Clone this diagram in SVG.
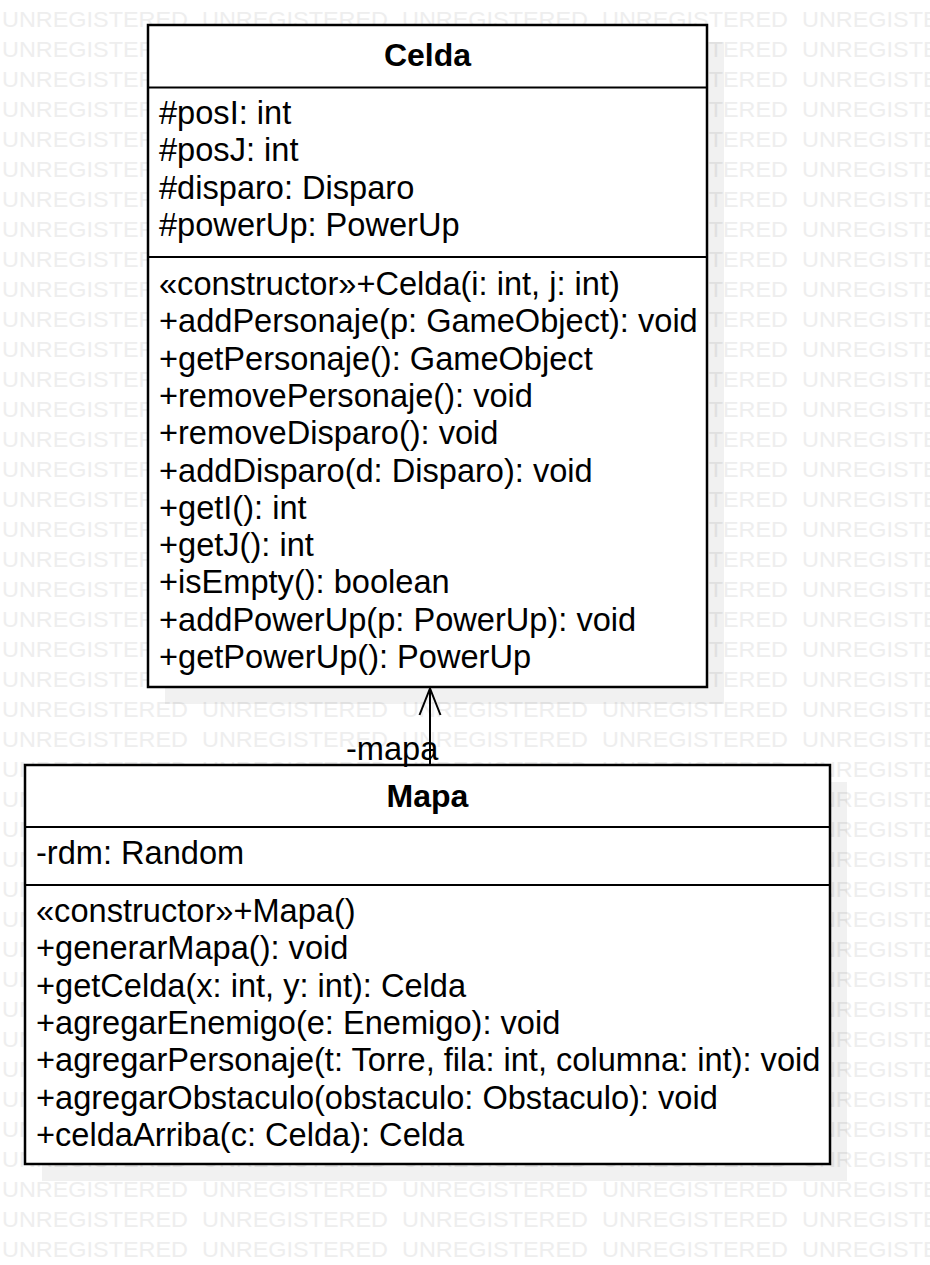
<svg xmlns="http://www.w3.org/2000/svg" xmlns:xlink="http://www.w3.org/1999/xlink" width="930" height="1265" viewBox="0 0 930 1265">
<style>
.wm{font-family:"Liberation Sans",Arial,sans-serif;font-size:22.5px;fill:#eeeeee}
.t{font-family:"Liberation Sans",Arial,sans-serif;font-size:32.6px;fill:#000}
.b{font-weight:bold;text-anchor:middle;font-size:32px}
.box{fill:#fff;stroke:#000;stroke-width:2.5}
.sh{fill:#000;fill-opacity:0.055}
.div{stroke:#000;stroke-width:2.2}
.con{stroke:#000;stroke-width:2;fill:none}
</style>
<defs>
<g id="row">
<text class="wm" x="2" textLength="186" lengthAdjust="spacingAndGlyphs">UNREGISTERED</text>
<text class="wm" x="202" textLength="186" lengthAdjust="spacingAndGlyphs">UNREGISTERED</text>
<text class="wm" x="402" textLength="186" lengthAdjust="spacingAndGlyphs">UNREGISTERED</text>
<text class="wm" x="602" textLength="186" lengthAdjust="spacingAndGlyphs">UNREGISTERED</text>
<text class="wm" x="802" textLength="186" lengthAdjust="spacingAndGlyphs">UNREGISTERED</text>
</g>
</defs>
<rect width="930" height="1265" fill="#fff"/>
<g id="watermark">
<use xlink:href="#row" y="27"/><use xlink:href="#row" y="57"/><use xlink:href="#row" y="87"/><use xlink:href="#row" y="117"/>
<use xlink:href="#row" y="147"/><use xlink:href="#row" y="177"/><use xlink:href="#row" y="207"/><use xlink:href="#row" y="237"/>
<use xlink:href="#row" y="267"/><use xlink:href="#row" y="297"/><use xlink:href="#row" y="327"/><use xlink:href="#row" y="357"/>
<use xlink:href="#row" y="387"/><use xlink:href="#row" y="417"/><use xlink:href="#row" y="447"/><use xlink:href="#row" y="477"/>
<use xlink:href="#row" y="507"/><use xlink:href="#row" y="537"/><use xlink:href="#row" y="567"/><use xlink:href="#row" y="597"/>
<use xlink:href="#row" y="627"/><use xlink:href="#row" y="657"/><use xlink:href="#row" y="687"/><use xlink:href="#row" y="717"/>
<use xlink:href="#row" y="747"/><use xlink:href="#row" y="777"/><use xlink:href="#row" y="807"/><use xlink:href="#row" y="837"/>
<use xlink:href="#row" y="867"/><use xlink:href="#row" y="897"/><use xlink:href="#row" y="927"/><use xlink:href="#row" y="957"/>
<use xlink:href="#row" y="987"/><use xlink:href="#row" y="1017"/><use xlink:href="#row" y="1047"/><use xlink:href="#row" y="1077"/>
<use xlink:href="#row" y="1107"/><use xlink:href="#row" y="1137"/><use xlink:href="#row" y="1167"/><use xlink:href="#row" y="1197"/>
<use xlink:href="#row" y="1227"/><use xlink:href="#row" y="1257"/>
</g>
<g id="Celda">
<rect class="sh" x="165" y="42" width="559" height="662"/>
<rect class="box" x="148" y="25" width="559" height="662"/>
<line class="div" x1="148" y1="87.5" x2="707" y2="87.5"/>
<line class="div" x1="148" y1="257" x2="707" y2="257"/>
<text class="t b" x="427.5" y="66">Celda</text>
<text class="t" x="159" y="124">#posI: int</text>
<text class="t" x="159" y="161.3">#posJ: int</text>
<text class="t" x="159" y="198.6">#disparo: Disparo</text>
<text class="t" x="159" y="236">#powerUp: PowerUp</text>
<text class="t" x="159" y="295">«constructor»+Celda(i: int, j: int)</text>
<text class="t" x="159" y="332.3">+addPersonaje(p: GameObject): void</text>
<text class="t" x="159" y="369.6">+getPersonaje(): GameObject</text>
<text class="t" x="159" y="406.9">+removePersonaje(): void</text>
<text class="t" x="159" y="444.2">+removeDisparo(): void</text>
<text class="t" x="159" y="481.5">+addDisparo(d: Disparo): void</text>
<text class="t" x="159" y="518.8">+getI(): int</text>
<text class="t" x="159" y="556.1">+getJ(): int</text>
<text class="t" x="159" y="593.4">+isEmpty(): boolean</text>
<text class="t" x="159" y="630.7">+addPowerUp(p: PowerUp): void</text>
<text class="t" x="159" y="668">+getPowerUp(): PowerUp</text>
</g>
<g id="Mapa">
<rect class="sh" x="42" y="782" width="805" height="399"/>
<rect class="box" x="25" y="765" width="805" height="399"/>
<line class="div" x1="25" y1="827" x2="830" y2="827"/>
<line class="div" x1="25" y1="885" x2="830" y2="885"/>
<text class="t b" x="427.5" y="807">Mapa</text>
<text class="t" x="36" y="864">-rdm: Random</text>
<text class="t" x="36" y="922">«constructor»+Mapa()</text>
<text class="t" x="36" y="959.3">+generarMapa(): void</text>
<text class="t" x="36" y="996.6">+getCelda(x: int, y: int): Celda</text>
<text class="t" x="36" y="1033.9">+agregarEnemigo(e: Enemigo): void</text>
<text class="t" x="36" y="1071.2">+agregarPersonaje(t: Torre, fila: int, columna: int): void</text>
<text class="t" x="36" y="1108.5">+agregarObstaculo(obstaculo: Obstaculo): void</text>
<text class="t" x="36" y="1145.8">+celdaArriba(c: Celda): Celda</text>
</g>
<g id="connectors">
<line class="con" x1="430" y1="765" x2="430" y2="688"/>
<polyline class="con" points="419.5,715 430,688.5 440.5,715"/>
<text class="t" x="346" y="760">-mapa</text>
</g>
</svg>
